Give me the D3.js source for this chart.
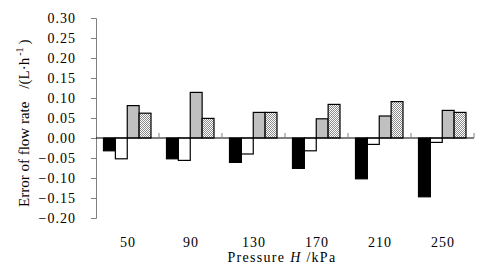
<!DOCTYPE html>
<html>
<head>
<meta charset="utf-8">
<script src="https://cdn.jsdelivr.net/npm/d3@7"></script>
<style>
  body { margin: 0; background: #fff; }
  text { font-family: "Liberation Serif", "Times New Roman", serif; fill: #000; }
</style>
</head>
<body>
<div id="chart"></div>
<script>
var pressures = ["50", "90", "130", "170", "210", "250"];
var seriesNames = ["s1", "s2", "s3", "s4"];
var s1 = [-0.032, -0.052, -0.061, -0.076, -0.102, -0.147];
var s2 = [-0.052, -0.056, -0.040, -0.032, -0.016, -0.011];
var s3 = [0.081, 0.114, 0.064, 0.048, 0.055, 0.069];
var s4 = [0.062, 0.049, 0.064, 0.084, 0.091, 0.064];
var yTicks = [-0.20, -0.15, -0.10, -0.05, 0.00, 0.05, 0.10, 0.15, 0.20, 0.25, 0.30];

var width = 480, height = 279;
var values = [s1, s2, s3, s4];
var fills = ["#000", "#fff", "#c0c0c0", "url(#hatch)"];

var svg = d3.select("#chart").append("svg")
  .attr("width", width)
  .attr("height", height);

var pat = svg.append("defs").append("pattern")
  .attr("id", "hatch")
  .attr("patternUnits", "userSpaceOnUse")
  .attr("width", 2).attr("height", 2);
pat.append("rect").attr("width", 2).attr("height", 2).attr("fill", "#fff");
pat.append("rect").attr("width", 1).attr("height", 1).attr("fill", "#8a8a8a");
pat.append("rect").attr("x", 1).attr("y", 1).attr("width", 1).attr("height", 1).attr("fill", "#8a8a8a");

var x = d3.scaleBand().domain(pressures).range([96, 474]);
var x1 = d3.scaleBand().domain(seriesNames).range([7.5, x.bandwidth() - 8]);
var y = d3.scaleLinear().domain([-0.2, 0.3]).range([218, 18]);

// y axis
var yAxis = d3.axisLeft(y).tickValues(yTicks).tickSize(5).tickFormat(d3.format(".2f"));
var gy = svg.append("g").attr("transform", "translate(96,0)").call(yAxis);
gy.select(".domain").attr("stroke", "#808080");
gy.selectAll(".tick line").attr("stroke", "#808080");
gy.selectAll(".tick text")
  .attr("x", -20)
  .style("font-size", "14px")
  .style("letter-spacing", "1px")
  .style("font-family", "Liberation Serif, serif");
gy.selectAll("text").attr("fill", "#000");

// bars
var groups = svg.append("g").selectAll("g")
  .data(pressures)
  .enter().append("g")
  .attr("transform", function(d) { return "translate(" + x(d) + ",0)"; });

groups.selectAll("rect")
  .data(function(d, i) {
    return seriesNames.map(function(s, j) { return {s: s, j: j, v: values[j][i]}; });
  })
  .enter().append("rect")
  .attr("x", function(d) { return x1(d.s); })
  .attr("width", x1.bandwidth())
  .attr("y", function(d) { return y(Math.max(0, d.v)); })
  .attr("height", function(d) { return Math.abs(y(d.v) - y(0)); })
  .attr("fill", function(d) { return fills[d.j]; })
  .attr("stroke", "#000")
  .attr("stroke-width", 1.2);

// x axis at zero
svg.append("line")
  .attr("x1", 96).attr("x2", 474)
  .attr("y1", y(0)).attr("y2", y(0))
  .attr("stroke", "#000").attr("stroke-width", 1.2);

svg.append("g").selectAll("line")
  .data(pressures)
  .enter().append("line")
  .attr("x1", function(d) { return x(d) + x.bandwidth(); })
  .attr("x2", function(d) { return x(d) + x.bandwidth(); })
  .attr("y1", y(0)).attr("y2", y(0) - 5)
  .attr("stroke", "#808080");

svg.append("g").selectAll("text")
  .data(pressures)
  .enter().append("text")
  .attr("x", function(d) { return x(d) + x.bandwidth() / 2 + 0.5; })
  .attr("y", 247)
  .attr("text-anchor", "middle")
  .style("font-size", "14px")
  .style("letter-spacing", "1px")
  .text(function(d) { return d; });

// x title
var xt = svg.append("text")
  .attr("x", 282).attr("y", 262)
  .attr("text-anchor", "middle")
  .style("font-size", "14px")
  .style("letter-spacing", "1.3px");
xt.append("tspan").text("Pressure ");
xt.append("tspan").style("font-style", "italic").text("H");
xt.append("tspan").text(" /kPa");

// y title
var yt = svg.append("text")
  .attr("transform", "translate(29,207) rotate(-90)")
  .style("font-size", "15px");
yt.append("tspan").text("Error of flow rate");
yt.append("tspan").attr("dx", 13).text("/(L\u00b7h");
yt.append("tspan").attr("dy", -6).attr("dx", 2).style("font-size", "10px").text("-1");
yt.append("tspan").attr("dy", 6).attr("dx", 3).text(")");
</script>
</body>
</html>
